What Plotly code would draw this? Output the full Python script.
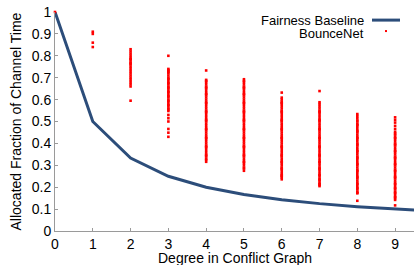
import plotly.graph_objects as go

# ---- data ----
degrees = [0, 1, 2, 3, 4, 5, 6, 7, 8, 9, 10]
fairness_baseline = [1.0, 0.5, 0.3333, 0.25, 0.2, 0.1667, 0.1429, 0.125, 0.1111, 0.1, 0.0909]

bounce_d0 = [1.0]
bounce_d1 = [0.91, 0.90, 0.86, 0.84]
bounce_d2 = [0.83, 0.82, 0.81, 0.80, 0.79, 0.785, 0.78, 0.77, 0.765, 0.76, 0.75, 0.74,
             0.73, 0.72, 0.71, 0.70, 0.69, 0.68, 0.67, 0.66, 0.595]
bounce_d3 = [0.80, 0.74, 0.735, 0.73, 0.725, 0.72, 0.71, 0.70, 0.695, 0.69, 0.68, 0.675,
             0.67, 0.66, 0.655, 0.65, 0.64, 0.635, 0.63, 0.62, 0.615, 0.61, 0.60, 0.595,
             0.59, 0.58, 0.575, 0.57, 0.56, 0.555, 0.548, 0.53, 0.515, 0.50, 0.466,
             0.449, 0.43]
bounce_d4 = [0.733, 0.69, 0.685, 0.68, 0.67, 0.66, 0.655, 0.65, 0.64, 0.63, 0.625, 0.62,
             0.61, 0.60, 0.59, 0.585, 0.58, 0.57, 0.56, 0.55, 0.545, 0.54, 0.53, 0.52,
             0.51, 0.505, 0.50, 0.49, 0.48, 0.47, 0.465, 0.46, 0.45, 0.44, 0.43, 0.425,
             0.42, 0.41, 0.40, 0.39, 0.385, 0.38, 0.37, 0.36, 0.35, 0.345, 0.34, 0.33,
             0.325, 0.316]
bounce_d5 = [0.693, 0.685, 0.68, 0.67, 0.66, 0.655, 0.65, 0.64, 0.63, 0.625, 0.62, 0.61,
             0.60, 0.59, 0.585, 0.58, 0.57, 0.56, 0.55, 0.545, 0.54, 0.53, 0.52, 0.51,
             0.505, 0.50, 0.49, 0.48, 0.47, 0.465, 0.46, 0.45, 0.44, 0.43, 0.425, 0.42,
             0.41, 0.40, 0.39, 0.385, 0.38, 0.37, 0.36, 0.35, 0.345, 0.34, 0.33, 0.32,
             0.315, 0.31, 0.30, 0.29, 0.285, 0.275]
bounce_d6 = [0.632, 0.609, 0.60, 0.59, 0.585, 0.58, 0.57, 0.56, 0.55, 0.545, 0.54, 0.53,
             0.52, 0.51, 0.505, 0.50, 0.49, 0.48, 0.47, 0.465, 0.46, 0.45, 0.44, 0.43,
             0.425, 0.42, 0.41, 0.40, 0.39, 0.385, 0.38, 0.37, 0.36, 0.35, 0.345, 0.34,
             0.33, 0.32, 0.315, 0.31, 0.30, 0.29, 0.285, 0.28, 0.27, 0.26, 0.255, 0.25,
             0.245, 0.236]
bounce_d7 = [0.639, 0.588, 0.58, 0.57, 0.56, 0.55, 0.545, 0.54, 0.53, 0.52, 0.51, 0.505,
             0.50, 0.49, 0.48, 0.47, 0.465, 0.46, 0.45, 0.44, 0.43, 0.425, 0.42, 0.41,
             0.40, 0.39, 0.385, 0.38, 0.37, 0.36, 0.35, 0.345, 0.34, 0.33, 0.32, 0.315,
             0.31, 0.30, 0.29, 0.285, 0.28, 0.27, 0.26, 0.255, 0.25, 0.24, 0.235, 0.23,
             0.22, 0.215, 0.21, 0.205]
bounce_d8 = [0.534, 0.525, 0.515, 0.505, 0.50, 0.49, 0.485, 0.48, 0.47, 0.46, 0.455,
             0.45, 0.44, 0.43, 0.425, 0.42, 0.41, 0.40, 0.395, 0.39, 0.38, 0.37, 0.365,
             0.36, 0.35, 0.34, 0.335, 0.33, 0.32, 0.31, 0.305, 0.30, 0.29, 0.28, 0.275,
             0.27, 0.26, 0.25, 0.245, 0.24, 0.23, 0.22, 0.215, 0.21, 0.20, 0.195, 0.19,
             0.18, 0.175, 0.172, 0.138]
bounce_d9 = [0.519, 0.507, 0.495, 0.48, 0.466, 0.453, 0.445, 0.44, 0.43, 0.425, 0.42,
             0.41, 0.40, 0.395, 0.39, 0.38, 0.37, 0.365, 0.36, 0.35, 0.34, 0.335, 0.33,
             0.32, 0.31, 0.305, 0.30, 0.29, 0.28, 0.275, 0.27, 0.26, 0.25, 0.245, 0.24,
             0.23, 0.22, 0.215, 0.21, 0.20, 0.195, 0.19, 0.18, 0.175, 0.17, 0.16, 0.155,
             0.15, 0.142, 0.117]

bounce_by_degree = [bounce_d0, bounce_d1, bounce_d2, bounce_d3, bounce_d4,
                    bounce_d5, bounce_d6, bounce_d7, bounce_d8, bounce_d9]

x_tick_vals = [0, 1, 2, 3, 4, 5, 6, 7, 8, 9]
y_tick_vals = [0, 0.1, 0.2, 0.3, 0.4, 0.5, 0.6, 0.7, 0.8, 0.9, 1]
y_tick_text = ["0", "0.1", "0.2", "0.3", "0.4", "0.5", "0.6", "0.7", "0.8", "0.9", "1"]

# ---- build scatter arrays ----
bx, by = [], []
for d, vals in enumerate(bounce_by_degree):
    bx.extend([d] * len(vals))
    by.extend(vals)

FONT = "Liberation Sans, Arial, Helvetica, sans-serif"
LINE_COLOR = "#2c4d7a"
AXIS_COLOR = "#9a9a9a"

fig = go.Figure()
fig.add_trace(go.Scatter(
    x=degrees, y=fairness_baseline, mode="lines", name="Fairness Baseline",
    line=dict(color=LINE_COLOR, width=3), cliponaxis=False, showlegend=False))
fig.add_trace(go.Scatter(
    x=bx, y=by, mode="markers", name="BounceNet",
    marker=dict(color="#ff0000", size=2.6, symbol="square", line=dict(width=0)),
    cliponaxis=False, showlegend=False))

fig.update_layout(
    width=414, height=265,
    margin=dict(l=55, r=0, t=12, b=34, autoexpand=False),
    paper_bgcolor="white", plot_bgcolor="white",
    font=dict(family=FONT, size=14, color="black"),
    xaxis=dict(range=[0, 9.5], tickvals=x_tick_vals, showgrid=False, zeroline=False,
               showline=True, linecolor=AXIS_COLOR, linewidth=1,
               ticks="inside", ticklen=3, tickcolor=AXIS_COLOR,
               tickfont=dict(size=14), automargin=False),
    yaxis=dict(range=[0, 1], tickvals=y_tick_vals, ticktext=y_tick_text,
               showgrid=False, zeroline=False,
               showline=True, linecolor=AXIS_COLOR, linewidth=1,
               ticks="inside", ticklen=3, tickcolor=AXIS_COLOR,
               tickfont=dict(size=14), automargin=False),
    showlegend=False,
)

# axis titles
fig.add_annotation(xref="paper", yref="paper", x=0.5, y=0, xanchor="center",
                   yanchor="middle", yshift=-27, text="Degree in Conflict Graph",
                   showarrow=False, font=dict(size=14, family=FONT, color="black"))
fig.add_annotation(xref="paper", yref="paper", x=0, y=0.5, xanchor="center",
                   yanchor="middle", xshift=-40, textangle=-90,
                   text="Allocated Fraction of Channel Time",
                   showarrow=False, font=dict(size=14, family=FONT, color="black"))

# legend (text right-aligned, sample on the right)
fig.add_annotation(xref="paper", yref="paper", x=0.8635, y=0.963, xanchor="right",
                   yanchor="middle", text="Fairness Baseline", showarrow=False,
                   borderpad=0, font=dict(size=13, family=FONT, color="black"))
fig.add_annotation(xref="paper", yref="paper", x=0.8635, y=0.904, xanchor="right",
                   yanchor="middle", text="BounceNet", showarrow=False,
                   borderpad=0, font=dict(size=13, family=FONT, color="black"))
fig.add_shape(type="line", xref="paper", yref="paper", x0=0.883, x1=0.961,
              y0=0.963, y1=0.963, line=dict(color=LINE_COLOR, width=3))
fig.add_shape(type="rect", xref="paper", yref="paper", xsizemode="pixel", ysizemode="pixel",
              xanchor=0.922, yanchor=0.913, x0=-1, x1=1, y0=-1, y1=1,
              fillcolor="#ff0000", line=dict(width=0))

fig.write_html("out.html", config={"displayModeBar": False},
               post_script="document.body.style.margin='0';document.body.style.overflow='hidden';")
